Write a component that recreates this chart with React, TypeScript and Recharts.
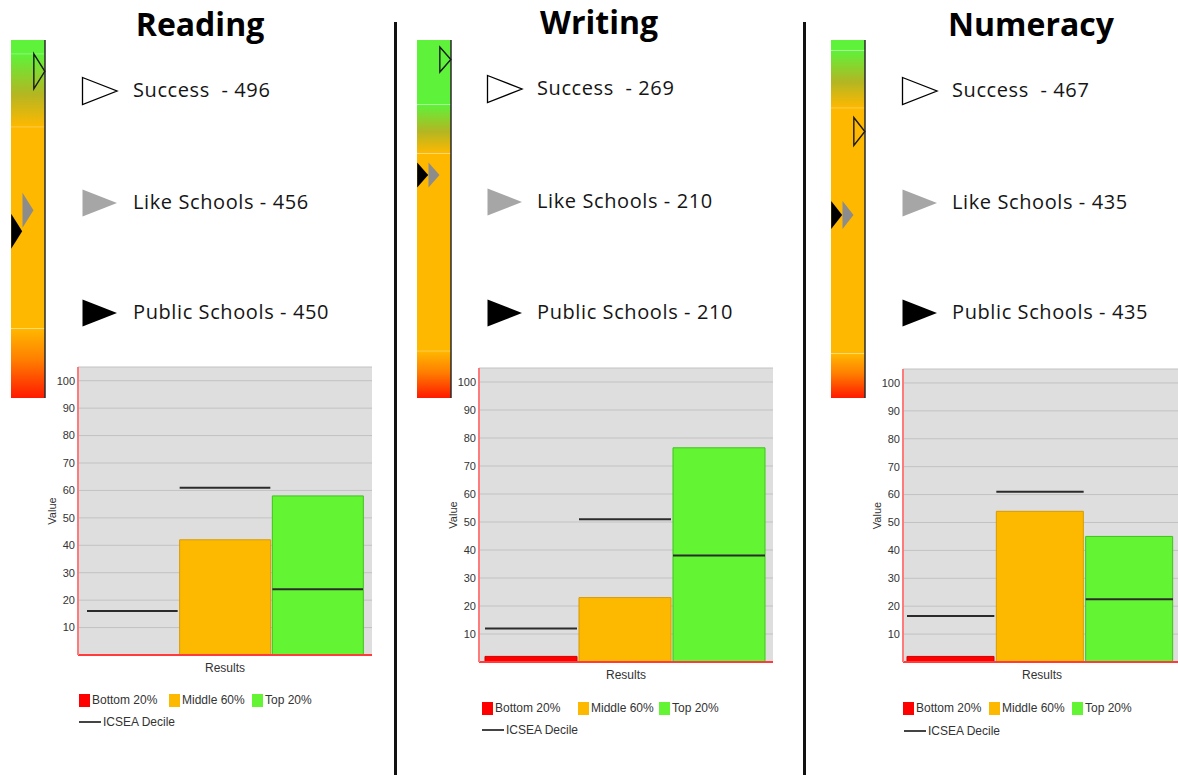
import React from 'react';
import {
  ComposedChart,
  Bar,
  Cell,
  Scatter,
  XAxis,
  YAxis,
  CartesianGrid,
  ReferenceArea,
  ReferenceLine,
} from 'recharts';

// ---------------- data ----------------
const subjects = ['Reading', 'Writing', 'Numeracy'];
const successScores = [496, 269, 467];
const likeSchoolScores = [456, 210, 435];
const publicSchoolScores = [450, 210, 435];

// gauge score range and colour band boundaries (top of orange→green, orange, red start)
const gaugeDomains = [
  [402, 505],
  [96, 279],
  [365, 502],
];
const gaugeBoundaries = [
  [501, 480, 422],
  [246, 221, 120],
  [498, 476, 382],
];

const bandCategories = ['Bottom 20%', 'Middle 60%', 'Top 20%'];
const readingBands = [0, 42, 58];
const writingBands = [2, 23, 76.5];
const numeracyBands = [2, 54, 45];
const readingIcsea = [16, 61, 24];
const writingIcsea = [12, 51, 38];
const numeracyIcsea = [16.5, 61, 22.5];
const bandValues = [readingBands, writingBands, numeracyBands];
const icseaValues = [readingIcsea, writingIcsea, numeracyIcsea];

const yTicks = [10, 20, 30, 40, 50, 60, 70, 80, 90, 100];
const icseaLabel = 'ICSEA Decile';
const xLabel = 'Results';
const yLabel = 'Value';

// ---------------- styles ----------------
const BAR_FILLS = ['#ff0000', '#fdb900', '#63f533'];
const BAR_STROKES = ['#cc0000', '#d99a00', '#3fc21c'];
const G_GREEN = '#5ef23a';
const G_ORANGE = '#ffb800';
const SMALL_FONT = '"Liberation Sans", Arial, sans-serif';
const BIG_FONT = '"Open Sans", sans-serif';

const panels = [
  {
    titleX: 200, titleY: 25,
    gaugeLeft: 11, triH: 35,
    legendLeft: 82, textLeft: 133, rowsY: [91, 203, 313],
    plot: { left: 78, top: 367, bottom: 655, right: 372, padL: 8, padR: 8 },
    legendXs: [79, 169, 252], legendY: 700, lineX: 79, lineY: 722,
  },
  {
    titleX: 599, titleY: 23,
    gaugeLeft: 417, triH: 25,
    legendLeft: 487, textLeft: 537, rowsY: [89, 202, 313],
    plot: { left: 479, top: 368, bottom: 662, right: 773, padL: 5, padR: 7 },
    legendXs: [482, 578, 659], legendY: 708, lineX: 482, lineY: 730,
  },
  {
    titleX: 1031, titleY: 25,
    gaugeLeft: 831, triH: 28,
    legendLeft: 902, textLeft: 952, rowsY: [91, 203, 313],
    plot: { left: 903, top: 369, bottom: 662, right: 1181, padL: 3, padR: 7 },
    legendXs: [903, 989, 1072], legendY: 708, lineX: 904, lineY: 731,
  },
];

// ---------------- gauge ----------------
const makeMarker = (h: number) => (props: any) => {
  const { cx, cy, payload } = props;
  if (cx == null || cy == null) return <g />;
  const w = 11;
  const pts = `${cx - w / 2},${cy - h / 2} ${cx + w / 2},${cy} ${cx - w / 2},${cy + h / 2}`;
  if (payload.kind === 'success')
    return <polygon points={pts} fill="none" stroke="#1a1a1a" strokeWidth={1.4} />;
  if (payload.kind === 'like') return <polygon points={pts} fill="#8c8c8c" stroke="none" />;
  return <polygon points={pts} fill="#000" stroke="none" />;
};

function Gauge({ idx }: { idx: number }) {
  const p = panels[idx];
  const [lo, hi] = gaugeDomains[idx];
  const [b1, b2, b3] = gaugeBoundaries[idx];
  const markers = [
    { slot: 0.5, score: publicSchoolScores[idx], kind: 'public' },
    { slot: 1.5, score: likeSchoolScores[idx], kind: 'like' },
    { slot: 2.5, score: successScores[idx], kind: 'success' },
  ];
  const id = `gauge${idx}`;
  return (
    <div style={{ position: 'absolute', left: p.gaugeLeft, top: 40 }}>
      <ComposedChart width={36} height={358} data={markers} margin={{ top: 0, right: 2, bottom: 0, left: 0 }}>
        <defs>
          <linearGradient id={`${id}top`} x1="0" y1="0" x2="0" y2="1">
            <stop offset="0" stopColor={G_GREEN} />
            <stop offset="0.55" stopColor="#b3b622" />
            <stop offset="1" stopColor={G_ORANGE} />
          </linearGradient>
          <linearGradient id={`${id}bot`} x1="0" y1="0" x2="0" y2="1">
            <stop offset="0" stopColor={G_ORANGE} />
            <stop offset="0.45" stopColor="#ff7f00" />
            <stop offset="1" stopColor="#ff1a00" />
          </linearGradient>
        </defs>
        <XAxis type="number" dataKey="slot" domain={[0, 3]} hide />
        <YAxis type="number" dataKey="score" domain={[lo, hi]} hide allowDataOverflow />
        <ReferenceArea y1={b1} y2={hi} fill={G_GREEN} fillOpacity={1} stroke="none" />
        <ReferenceArea y1={b2} y2={b1} fill={`url(#${id}top)`} fillOpacity={1} stroke="none" />
        <ReferenceArea y1={b3} y2={b2} fill={G_ORANGE} fillOpacity={1} stroke="none" />
        <ReferenceArea y1={lo} y2={b3} fill={`url(#${id}bot)`} fillOpacity={1} stroke="none" />
        {[b1, b2, b3].map((b) => (
          <ReferenceLine key={b} y={b} stroke="#ffffff" strokeOpacity={0.3} strokeWidth={1} />
        ))}
        <ReferenceLine x={3} stroke="#2a2a2a" strokeWidth={1.5} />
        <Scatter dataKey="score" isAnimationActive={false} shape={makeMarker(p.triH)} />
      </ComposedChart>
    </div>
  );
}

// ---------------- marker legend ----------------
function MarkerLegend({ idx }: { idx: number }) {
  const p = panels[idx];
  const rows = [
    { kind: 'success', text: `Success  - ${successScores[idx]}` },
    { kind: 'like', text: `Like Schools - ${likeSchoolScores[idx]}` },
    { kind: 'public', text: `Public Schools - ${publicSchoolScores[idx]}` },
  ];
  return (
    <>
      {rows.map((r, i) => {
        const y = p.rowsY[i];
        const fill = r.kind === 'success' ? '#fff' : r.kind === 'like' ? '#a6a6a6' : '#000';
        return (
          <React.Fragment key={r.kind}>
            <svg
              width={38}
              height={30}
              style={{ position: 'absolute', left: p.legendLeft - 1, top: y - 15 }}
            >
              <polygon
                points="1.5,1.5 36,15 1.5,28.5"
                fill={fill}
                stroke={r.kind === 'success' ? '#000' : 'none'}
                strokeWidth={1.3}
              />
            </svg>
            <div
              style={{
                position: 'absolute',
                left: p.textLeft,
                top: y - 11.5,
                fontFamily: BIG_FONT,
                fontSize: 20,
                lineHeight: '20px',
                letterSpacing: 0.6,
                color: '#151515',
                whiteSpace: 'pre',
              }}
            >
              {r.text}
            </div>
          </React.Fragment>
        );
      })}
    </>
  );
}

// ---------------- bar panel ----------------
const YW = 48;
const XH = 26;

function BarPanel({ idx }: { idx: number }) {
  const p = panels[idx];
  const pl = p.plot;
  const data = bandCategories.map((name, i) => ({
    name,
    value: bandValues[idx][i],
    icsea: icseaValues[idx][i],
  }));
  const bandW = (pl.right - pl.left - pl.padL - pl.padR) / bandCategories.length;
  const lineW = bandW - 2;
  const width = YW + (pl.right - pl.left) + 2;
  const height = 2 + (pl.bottom - pl.top) + XH;
  const icseaShape = (props: any) => {
    const { cx, cy } = props;
    if (cx == null || cy == null) return <g />;
    return <line x1={cx - lineW / 2} x2={cx + lineW / 2} y1={cy} y2={cy} stroke="#2b2b2b" strokeWidth={2} />;
  };
  return (
    <div style={{ position: 'absolute', left: pl.left - YW, top: pl.top - 2 }}>
      <ComposedChart
        width={width}
        height={height}
        data={data}
        margin={{ top: 2, right: 2, bottom: 0, left: 0 }}
        barCategoryGap={1}
      >
        <CartesianGrid vertical={false} fill="#dedede" fillOpacity={1} stroke="#c2c2c2" />
        <XAxis
          dataKey="name"
          type="category"
          tick={false}
          tickLine={false}
          height={XH}
          padding={{ left: pl.padL, right: pl.padR }}
          axisLine={{ stroke: '#ff3b3b', strokeWidth: 2 }}
          label={{ value: xLabel, position: 'center', fill: '#333', fontSize: 12, fontFamily: SMALL_FONT }}
        />
        <YAxis
          type="number"
          domain={[0, 105]}
          ticks={yTicks}
          width={YW}
          tickLine={false}
          tickSize={0}
          tickMargin={3}
          axisLine={{ stroke: '#ff7a7a', strokeWidth: 2 }}
          tick={{ fontSize: 11, fill: '#333', fontFamily: SMALL_FONT }}
          label={{
            value: yLabel,
            angle: -90,
            position: 'insideLeft',
            offset: 22,
            fill: '#333',
            fontSize: 11,
            fontFamily: SMALL_FONT,
            style: { textAnchor: 'middle' },
          }}
        />
        <Bar dataKey="value" isAnimationActive={false}>
          {data.map((d, i) => (
            <Cell key={d.name} fill={BAR_FILLS[i]} stroke={BAR_STROKES[i]} strokeWidth={1} />
          ))}
        </Bar>
        <Scatter dataKey="icsea" isAnimationActive={false} shape={icseaShape} />
      </ComposedChart>
    </div>
  );
}

function BarLegend({ idx }: { idx: number }) {
  const p = panels[idx];
  const txt: React.CSSProperties = {
    position: 'absolute',
    fontFamily: SMALL_FONT,
    fontSize: 12,
    lineHeight: '12px',
    color: '#333',
    whiteSpace: 'pre',
  };
  return (
    <>
      {bandCategories.map((name, i) => (
        <React.Fragment key={name}>
          <div
            style={{
              position: 'absolute',
              left: p.legendXs[i],
              top: p.legendY - 6.5,
              width: 11,
              height: 13,
              background: BAR_FILLS[i],
            }}
          />
          <div style={{ ...txt, left: p.legendXs[i] + 13, top: p.legendY - 6 }}>{name}</div>
        </React.Fragment>
      ))}
      <div
        style={{
          position: 'absolute',
          left: p.lineX,
          top: p.lineY - 1,
          width: 22,
          height: 2,
          background: '#444',
        }}
      />
      <div style={{ ...txt, left: p.lineX + 24, top: p.lineY - 6 }}>{icseaLabel}</div>
    </>
  );
}

export default function App() {
  return (
    <div
      style={{
        position: 'absolute',
        left: 0,
        top: 0,
        width: 1178,
        height: 775,
        overflow: 'hidden',
        background: '#fff',
      }}
    >
      {subjects.map((s, i) => (
        <div
          key={s}
          style={{
            position: 'absolute',
            left: panels[i].titleX - 150,
            top: panels[i].titleY - 17,
            width: 300,
            textAlign: 'center',
            fontFamily: BIG_FONT,
            fontWeight: 700,
            fontSize: 32,
            lineHeight: '32px',
            color: '#000',
          }}
        >
          {s}
        </div>
      ))}
      <div style={{ position: 'absolute', left: 394, top: 22, width: 3, height: 760, background: '#111' }} />
      <div style={{ position: 'absolute', left: 803, top: 22, width: 3, height: 760, background: '#111' }} />
      {subjects.map((s, i) => (
        <React.Fragment key={s}>
          <Gauge idx={i} />
          <MarkerLegend idx={i} />
          <BarPanel idx={i} />
          <BarLegend idx={i} />
        </React.Fragment>
      ))}
    </div>
  );
}
